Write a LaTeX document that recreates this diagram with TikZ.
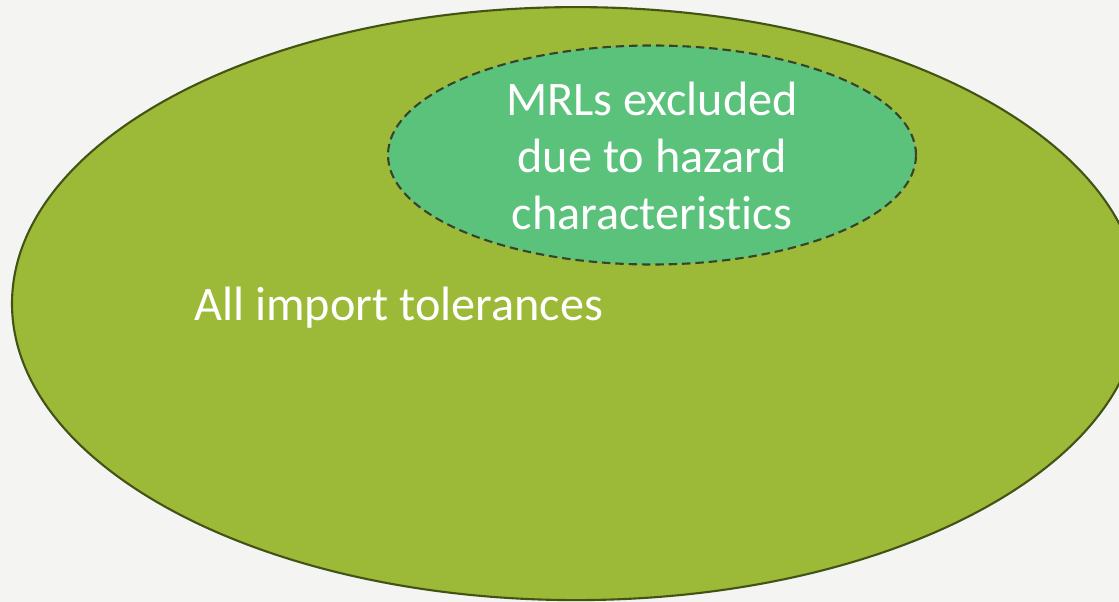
\documentclass[tikz,border=0pt]{standalone}
\usepackage{fontspec}
\setmainfont{Carlito}[Ligatures={NoCommon}]
\usetikzlibrary{shapes.geometric}

\definecolor{bggrey}{HTML}{F4F4F2}
\definecolor{olivefill}{HTML}{9CBA37}
\definecolor{oliveline}{HTML}{435316}
\definecolor{mrlfill}{HTML}{5BC27B}
\definecolor{mrlline}{HTML}{37432A}

\tikzset{
  setbox/.style={ellipse, inner sep=0pt, line width=1.5pt},
  settext/.style={text=white, font=\fontsize{34.3}{40.5}\selectfont}
}

\begin{document}
\begin{tikzpicture}
  \useasboundingbox (0, 0) rectangle (27.975, -15.05);
  \clip (0, 0) rectangle (27.975, -15.05);
  \fill[bggrey] (0, 0) rectangle (27.975, -15.05);

  \node[setbox, draw=oliveline, fill=olivefill,
        minimum width=28.2cm, minimum height=14.825cm] (all) at (14.4, -7.59) {};

  \node[setbox, draw=mrlline, fill=mrlfill, dash pattern=on 6pt off 3.5pt,
        minimum width=13.2cm, minimum height=5.475cm] (mrl) at (16.3, -3.875) {};
  \node[settext, align=center] (mrltext) at (16.3, -3.9)
    {MRLs excluded\\due to hazard\\characteristics};

  \node[settext, anchor=west, inner sep=0pt] (alltext) at (4.85, -7.7) {All import tolerances};
\end{tikzpicture}
\end{document}
